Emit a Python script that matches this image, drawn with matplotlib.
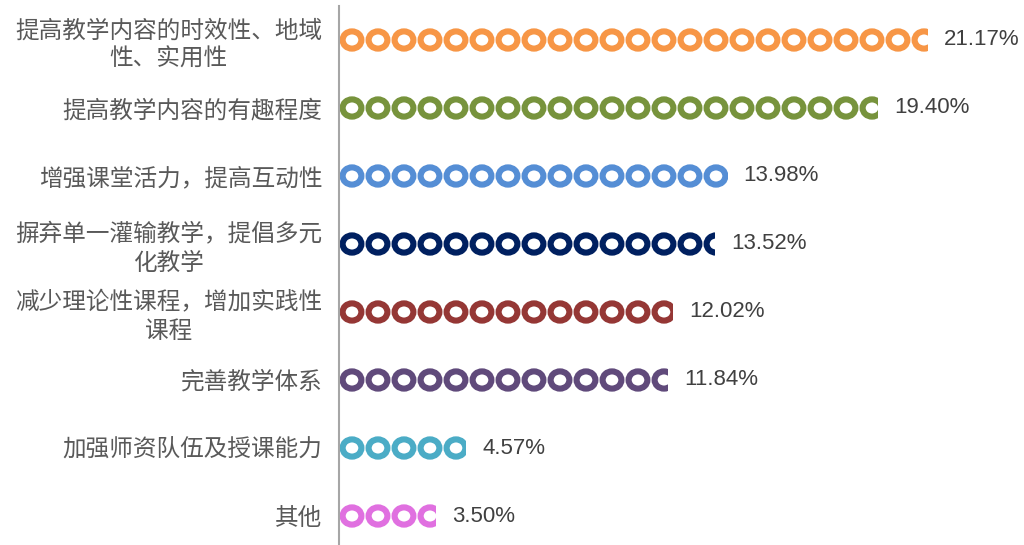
import matplotlib
matplotlib.use('Agg')
import math

import matplotlib.pyplot as plt
from matplotlib.patches import Ellipse, Rectangle

plt.rcParams['font.family'] = ['Noto Sans CJK SC', 'DejaVu Sans']

labels = ['提高教学内容的时效性、地域\n性、实用性', '提高教学内容的有趣程度', '增强课堂活力，提高互动性',
          '摒弃单一灌输教学，提倡多元\n化教学', '减少理论性课程，增加实践性\n课程', '完善教学体系',
          '加强师资队伍及授课能力', '其他']
values = [21.17, 19.40, 13.98, 13.52, 12.02, 11.84, 4.57, 3.50]
colors = ['#F79646', '#77933C', '#558ED5', '#002060', '#953735', '#604A7B', '#4BACC6', '#E070E0']

W, H, DPI = 10.24, 5.45, 100
fig = plt.figure(figsize=(W, H), dpi=DPI)
ax = fig.add_axes([339 / 1024, -5 / 545, (1010 - 339) / 1024, 544 / 545])

px_per_unit_x = 27.8
xmax = (1010 - 339) / px_per_unit_x
ax.set_xlim(0, xmax)
ax.set_ylim(len(values) - 0.5, -0.5)
px_per_unit_y = 544 / len(values)

# ring geometry (pixels converted to data units)
pitch = 26 / px_per_unit_x
ring_w = 18.8 / px_per_unit_x
ring_h = 17.2 / px_per_unit_y

for i, (v, c) in enumerate(zip(values, colors)):
    clip = Rectangle((0, i - 0.5), v, 1, transform=ax.transData, facecolor='none', edgecolor='none')
    ax.add_patch(clip)
    n = math.ceil(v / pitch)
    for k in range(n):
        e = Ellipse((pitch / 2 + k * pitch, i), ring_w, ring_h, facecolor='none',
                    edgecolor=c, linewidth=4.4)
        ax.add_patch(e)
        e.set_clip_path(clip)
    ax.text(v + 16 / px_per_unit_x, i, '%.2f%%' % v, va='center', ha='left',
            fontsize=16, color='#404040', family=['Liberation Sans', 'DejaVu Sans'])

ax.set_yticks(range(len(labels)))
ax.set_yticklabels(labels, fontsize=17, color='#595959', multialignment='center', linespacing=1.3)
ax.tick_params(axis='y', length=0, pad=12)
ax.set_xticks([])
for s in ['top', 'right', 'bottom']:
    ax.spines[s].set_visible(False)
ax.spines['left'].set_color('#A6A6A6')
ax.spines['left'].set_linewidth(1.5)

fig.savefig('out.png', dpi=DPI)
